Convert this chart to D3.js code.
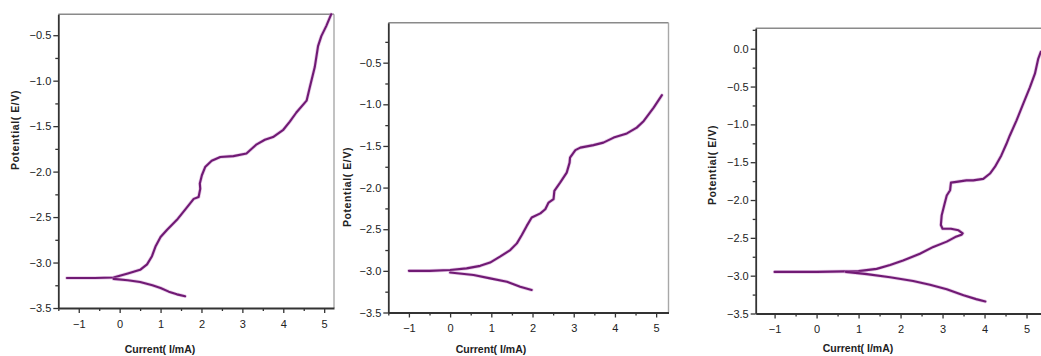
<!DOCTYPE html>
<html>
<head>
<meta charset="utf-8">
<script src="https://cdn.jsdelivr.net/npm/d3@7/dist/d3.min.js"></script>
<style>
  html, body { margin: 0; padding: 0; background: #fff; }
  svg { display: block; }
  .tick text { font-family: "Liberation Sans Narrow", "Arial Narrow", "Liberation Sans", Arial, sans-serif; font-size: 11px; fill: #222; }
  .title { font-family: "Liberation Sans Narrow", "Arial Narrow", "Liberation Sans", Arial, sans-serif; font-weight: bold; font-size: 10.5px; fill: #222; }
</style>
</head>
<body>
<svg id="chart" width="1041" height="356"></svg>
<script>
// ---------- data ----------
const xTitle = "Current( I/mA)";
const yTitle = "Potential( E/V)";
const xTickLabels = [-1, 0, 1, 2, 3, 4, 5];
const yTickLabels12 = [-3.5, -3.0, -2.5, -2.0, -1.5, -1.0, -0.5];
const yTickLabels3 = [-3.5, -3.0, -2.5, -2.0, -1.5, -1.0, -0.5, 0.0];

// panel 1: [current mA, potential V]
const p1Anodic = [[-1.29,-3.17],[-0.6,-3.17],[-0.15,-3.165],[0.2,-3.12],[0.5,-3.08],[0.67,-3.02],[0.79,-2.93],[0.88,-2.82],[1.0,-2.72],[1.16,-2.64],[1.4,-2.53],[1.65,-2.39],[1.81,-2.30],[1.93,-2.28],[1.97,-2.19],[1.96,-2.13],[2.01,-2.04],[2.09,-1.95],[2.25,-1.88],[2.46,-1.84],[2.78,-1.83],[3.1,-1.80],[3.35,-1.70],[3.55,-1.65],[3.75,-1.62],[4.0,-1.54],[4.16,-1.45],[4.32,-1.35],[4.57,-1.22],[4.65,-1.07],[4.77,-0.85],[4.85,-0.62],[4.93,-0.51],[5.05,-0.40],[5.17,-0.27]];
const p1Cathodic = [[-0.15,-3.18],[0.2,-3.195],[0.5,-3.215],[0.8,-3.25],[1.0,-3.28],[1.2,-3.32],[1.4,-3.35],[1.6,-3.37]];

// panel 2
const p2Anodic = [[-1.0,-3.0],[-0.5,-3.0],[0,-2.99],[0.4,-2.97],[0.73,-2.94],[0.97,-2.9],[1.21,-2.83],[1.46,-2.75],[1.62,-2.67],[1.74,-2.57],[1.86,-2.46],[1.98,-2.36],[2.19,-2.31],[2.31,-2.26],[2.39,-2.18],[2.51,-2.14],[2.53,-2.04],[2.67,-1.94],[2.83,-1.82],[2.9,-1.70],[2.91,-1.64],[3.04,-1.55],[3.16,-1.52],[3.48,-1.49],[3.72,-1.46],[3.97,-1.40],[4.29,-1.35],[4.53,-1.28],[4.7,-1.20],[4.94,-1.04],[5.14,-0.89]];
const p2Cathodic = [[0,-3.02],[0.57,-3.05],[0.97,-3.09],[1.38,-3.13],[1.70,-3.19],[1.98,-3.23]];

// panel 3
const p3Anodic = [[-1.0,-2.95],[0,-2.95],[1.0,-2.94],[1.43,-2.91],[1.75,-2.86],[2.06,-2.80],[2.46,-2.71],[2.78,-2.62],[3.1,-2.55],[3.3,-2.49],[3.45,-2.46],[3.48,-2.44],[3.38,-2.40],[3.2,-2.38],[3.0,-2.38],[2.96,-2.33],[2.98,-2.2],[3.04,-2.07],[3.1,-1.94],[3.18,-1.87],[3.2,-1.77],[3.33,-1.76],[3.57,-1.74],[3.73,-1.74],[3.97,-1.72],[4.13,-1.65],[4.25,-1.56],[4.40,-1.41],[4.52,-1.26],[4.60,-1.15],[4.76,-0.95],[4.92,-0.73],[5.08,-0.51],[5.2,-0.33],[5.28,-0.13],[5.34,-0.04]];
const p3Cathodic = [[0.7,-2.95],[1.2,-2.98],[1.75,-3.02],[2.3,-3.07],[2.7,-3.12],[3.1,-3.18],[3.5,-3.26],[3.8,-3.31],[4.02,-3.34]];

// ---------- layout ----------
const panels = [
  { xDom: [-1.5, 5.24], yDom: [-3.5, -0.27], box: [58.3, 334, 14.3, 308], yTicks: yTickLabels12,
    series: [p1Anodic, p1Cathodic], xTitlePos: [160, 353], yTitlePos: [19, 130], rightBorder: true },
  { xDom: [-1.5, 5.3], yDom: [-3.5, -0.02], box: [388.3, 668.5, 22.7, 312.5], yTicks: yTickLabels12,
    series: [p2Anodic, p2Cathodic], xTitlePos: [491, 353], yTitlePos: [351, 187], rightBorder: true },
  { xDom: [-1.45, 5.44], yDom: [-3.5, 0.27], box: [755.7, 1045, 28.3, 313.5], yTicks: yTickLabels3,
    series: [p3Anodic, p3Cathodic], xTitlePos: [858, 352], yTitlePos: [716, 165], rightBorder: false }
];

const svg = d3.select("#chart");
svg.append("rect").attr("width", 1041).attr("height", 356).attr("fill", "#fff");

const lineColor = "#701a74";

panels.forEach(p => {
  const [l, r, t, b] = p.box;
  const x = d3.scaleLinear().domain(p.xDom).range([l, r]);
  const y = d3.scaleLinear().domain(p.yDom).range([b, t]);
  const g = svg.append("g");

  // frame (top & right)
  g.append("line").attr("x1", l).attr("x2", r).attr("y1", t).attr("y2", t)
    .attr("stroke", "#8a8a8a").attr("stroke-width", 1.6);
  if (p.rightBorder) {
    g.append("line").attr("x1", r).attr("x2", r).attr("y1", t).attr("y2", b)
      .attr("stroke", "#a8a8a8").attr("stroke-width", 1.4);
  }

  // minor ticks
  const xMinor = d3.range(Math.ceil(p.xDom[0] * 2) / 2, p.xDom[1] + 1e-9, 0.5).filter(v => Math.abs(v % 1) > 1e-6);
  const yMinor = d3.range(-3.5, p.yDom[1] + 1e-9, 0.25).filter(v => Math.abs((v * 2) % 1) > 1e-6);
  const xm = g.append("g").attr("transform", `translate(0,${b})`)
    .call(d3.axisBottom(x).tickValues(xMinor).tickSize(3).tickSizeOuter(0).tickFormat(""));
  xm.select(".domain").remove();
  const ym = g.append("g").attr("transform", `translate(${l},0)`)
    .call(d3.axisLeft(y).tickValues(yMinor).tickSize(3).tickSizeOuter(0).tickFormat(""));
  ym.select(".domain").remove();

  // major axes
  const xa = g.append("g").attr("transform", `translate(0,${b})`)
    .call(d3.axisBottom(x).tickValues(xTickLabels).tickSize(5).tickPadding(7).tickSizeOuter(0).tickFormat(d3.format("d")));
  const ya = g.append("g").attr("transform", `translate(${l},0)`)
    .call(d3.axisLeft(y).tickValues(p.yTicks).tickSize(5).tickPadding(2).tickSizeOuter(0).tickFormat(d3.format(".1f")));
  [xa, ya, xm, ym].forEach(a => {
    a.selectAll(".tick line").attr("stroke", "#333").attr("stroke-width", 1.3);
  });
  xa.select(".domain").attr("stroke", "#333").attr("stroke-width", 1.8);
  ya.select(".domain").attr("stroke", "#333").attr("stroke-width", 1.8);

  // curves
  const line = d3.line().x(d => x(d[0])).y(d => y(d[1])).curve(d3.curveLinear);
  p.series.forEach(s => {
    g.append("path").datum(s).attr("d", line)
      .attr("fill", "none").attr("stroke", "#c98ccb").attr("stroke-width", 3.6)
      .attr("stroke-opacity", 0.45).attr("stroke-linejoin", "round").attr("stroke-linecap", "round");
    g.append("path").datum(s).attr("d", line)
      .attr("fill", "none").attr("stroke", lineColor).attr("stroke-width", 2.1)
      .attr("stroke-linejoin", "round").attr("stroke-linecap", "round");
  });

  // titles
  g.append("text").attr("class", "title")
    .attr("x", p.xTitlePos[0]).attr("y", p.xTitlePos[1])
    .attr("text-anchor", "middle").text(xTitle);
  g.append("text").attr("class", "title")
    .attr("transform", `translate(${p.yTitlePos[0]},${p.yTitlePos[1]}) rotate(-90)`)
    .attr("text-anchor", "middle").attr("font-size", "11.5px").attr("letter-spacing", "0.6px").text(yTitle);
});
</script>
</body>
</html>
